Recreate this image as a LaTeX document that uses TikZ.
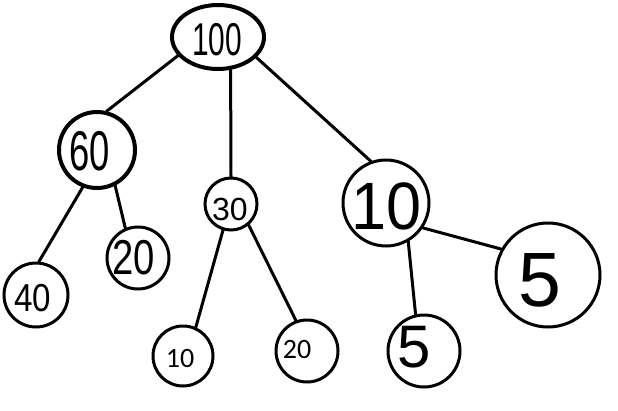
\documentclass[tikz,border=0pt]{standalone}
\usepackage{fontspec}
\setmainfont{Liberation Sans}
\newfontfamily\typedfont{Carlito}
\usetikzlibrary{shapes.geometric}
\tikzset{
  x=1pt, y=-1pt,
  ring/.style={circle, draw=black, line width=3pt, inner sep=0pt, minimum size=#1},
  heavyring/.style={circle, draw=black, line width=4pt, inner sep=0pt, minimum size=#1},
  digits/.style={inner sep=0pt, text=black},
  edge/.style={draw=black, line width=3pt, line cap=round}
}
\newcommand{\hw}[3]{\scalebox{#2}[1]{\fontsize{#1}{#1}\selectfont #3}}
\begin{document}
\begin{tikzpicture}
\useasboundingbox (0,0) rectangle (618,410);
% rings
\node[ellipse, draw=black, line width=4pt, inner sep=0pt, minimum width=92pt, minimum height=64pt] (n100) at (218,37) {};
\node[heavyring=76pt] (n60) at (97,150) {};
\node[ring=52pt] (n30) at (231,204) {};
\node[ring=86pt] (n10) at (386,203) {};
\node[ring=64pt] (n40) at (36,295) {};
\node[ring=62pt] (n20a) at (138,258) {};
\node[ring=60pt] (n10s) at (183,356) {};
\node[ring=62pt] (n20s) at (307,351) {};
\node[ring=72pt] (n5b) at (424,351) {};
\node[ring=104pt] (n5r) at (548,275) {};
% labels
\node[digits] (t100) at (217,40) {\hw{46}{0.65}{100}};
\node[digits] (t60) at (90,151) {\hw{56}{0.65}{60}};
\node[digits] (t30) at (230,209) {\hw{32}{1}{30}};
\node[digits] (t40) at (33,298) {\hw{39}{0.85}{40}};
\node[digits] (t20a) at (134,258) {\hw{49}{0.78}{20}};
\node[digits] (t10s) at (180,359) {\typedfont\fontsize{28}{28}\selectfont 10};
\node[digits] (t20s) at (297,350) {\typedfont\fontsize{28}{28}\selectfont 20};
\node[digits] (t10) at (387,206) {\hw{67}{0.94}{10}};
\node[digits] (t5r) at (540,280) {\hw{77}{1}{5}};
\node[digits] (t5b) at (414,347) {\hw{60}{1}{5}};
% connectors
\draw[edge] (n100.205) -- (n60.76);
\draw[edge] (n100.291) -- (n30.90);
\draw[edge] (n100.332) -- (n10.110);
\draw[edge] (n60.249) -- (n40.85);
\draw[edge] (n60.297) -- (n20a.113);
\draw[edge] (n30.253) -- (n10s.66);
\draw[edge] (n30.310) -- (n20s.110);
\draw[edge] (n10.300) -- (n5b.103);
\draw[edge] (n10.326) -- (n5r.151);
\end{tikzpicture}
\end{document}
